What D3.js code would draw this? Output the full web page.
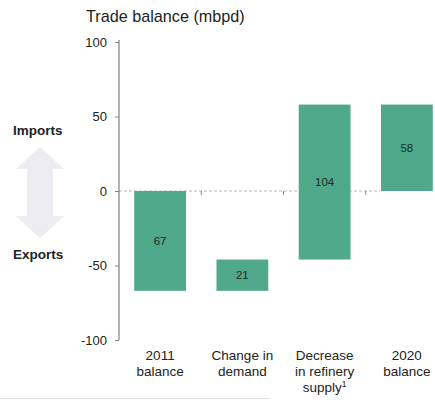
<!DOCTYPE html>
<html>
<head>
<meta charset="utf-8">
<script src="https://cdn.jsdelivr.net/npm/d3@7"></script>
<style>
  html, body { margin: 0; padding: 0; background: #ffffff; }
  svg { display: block; font-family: "Liberation Sans", Arial, sans-serif; }
</style>
</head>
<body>
<svg id="chart" width="435" height="402"></svg>
<script>
// Waterfall steps: signed change of each step in mbpd
const categories = ["2011 balance", "Change in demand", "Decrease in refinery supply", "2020 balance"];
const categoryLines = [["2011", "balance"], ["Change in", "demand"], ["Decrease", "in refinery", "supply"], ["2020", "balance"]];
const stepValues = [-67, 21, 104, 58];
const isTotal = [true, false, false, true];
const yTicks = [100, 50, 0, -50, -100];

// start/end of each floating bar
const bars = [];
let running = 0;
stepValues.forEach((v, i) => {
  if (isTotal[i]) {
    bars.push({ cat: categories[i], lines: categoryLines[i], v, y0: 0, y1: v });
    running = v;
  } else {
    bars.push({ cat: categories[i], lines: categoryLines[i], v, y0: running, y1: running + v });
    running += v;
  }
});

const svg = d3.select("#chart");
const axisX = 119;

const y = d3.scaleLinear().domain([-100, 100]).range([340, 42]);
const x = d3.scaleBand().domain(categories).range([axisX, 448])
  .paddingInner(0.37).paddingOuter(0.185);

// Title
svg.append("text").attr("x", 86).attr("y", 22)
  .attr("font-size", 16.2).attr("fill", "#222")
  .text("Trade balance (mbpd)");

// Imports / exports double arrow
const ac = 40, at = 147, ab = 238, hw = 24, sw = 13, hh = 22;
const arrow = [
  [ac, at], [ac + hw, at + hh], [ac + sw, at + hh], [ac + sw, ab - hh], [ac + hw, ab - hh],
  [ac, ab], [ac - hw, ab - hh], [ac - sw, ab - hh], [ac - sw, at + hh], [ac - hw, at + hh]
];
svg.append("polygon")
  .attr("points", arrow.map(p => p.join(",")).join(" "))
  .attr("fill", "#ececf1");

svg.append("text").attr("x", 13).attr("y", 135)
  .attr("font-size", 13.5).attr("font-weight", "bold").attr("fill", "#222").text("Imports");
svg.append("text").attr("x", 13).attr("y", 259)
  .attr("font-size", 13.5).attr("font-weight", "bold").attr("fill", "#222").text("Exports");

// Zero line
svg.append("line")
  .attr("x1", axisX).attr("x2", 380)
  .attr("y1", y(0)).attr("y2", y(0))
  .attr("stroke", "#b5b5b5").attr("stroke-width", 1).attr("stroke-dasharray", "3,2");

// Band boundary ticks on the zero line
const bounds = categories.slice(1).map(c => x(c) - x.step() * x.paddingInner() / 2);
svg.selectAll(".btick").data(bounds).join("line")
  .attr("x1", d => d).attr("x2", d => d)
  .attr("y1", y(0)).attr("y2", y(0) + 4)
  .attr("stroke", "#888").attr("stroke-width", 1);

// Bars
svg.selectAll(".bar").data(bars).join("rect")
  .attr("x", d => x(d.cat))
  .attr("width", x.bandwidth())
  .attr("y", d => y(Math.max(d.y0, d.y1)))
  .attr("height", d => Math.abs(y(d.y0) - y(d.y1)))
  .attr("fill", "#50a98a");

// Value labels
svg.selectAll(".val").data(bars).join("text")
  .attr("x", d => x(d.cat) + x.bandwidth() / 2)
  .attr("y", d => y((d.y0 + d.y1) / 2) + 4)
  .attr("text-anchor", "middle").attr("font-size", 11.5).attr("fill", "#1d2a24")
  .text(d => Math.abs(d.v));

// Y axis (plain hyphen for negatives)
const yAxis = d3.axisLeft(y).tickValues(yTicks).tickSize(4).tickPadding(8)
  .tickFormat(d => String(d));
const gy = svg.append("g").attr("transform", `translate(${axisX},0)`).call(yAxis);
gy.select(".domain").attr("stroke", "#666").attr("d", `M-0,${y(100) - 2}V${y(-100)}`);
gy.selectAll(".tick line").attr("stroke", "#888");
gy.selectAll(".tick text").attr("font-size", 13).attr("fill", "#222")
  .attr("font-family", "Liberation Sans, Arial, sans-serif");

// Category labels
const cl = svg.selectAll(".cat").data(bars).join("text")
  .attr("text-anchor", "middle").attr("font-size", 13.5).attr("fill", "#222");
cl.each(function (d) {
  const t = d3.select(this);
  d.lines.forEach((ln, i) => {
    t.append("tspan")
      .attr("x", x(d.cat) + x.bandwidth() / 2)
      .attr("y", 360 + i * 16)
      .text(ln);
    if (ln === "supply") {
      t.append("tspan").attr("font-size", 8.5).attr("dy", -5).text("1");
    }
  });
});

// Faint rule at the foot
svg.append("line").attr("x1", 0).attr("x2", 270).attr("y1", 398.5).attr("y2", 398.5)
  .attr("stroke", "#dcdcdc").attr("stroke-width", 1);
</script>
</body>
</html>
